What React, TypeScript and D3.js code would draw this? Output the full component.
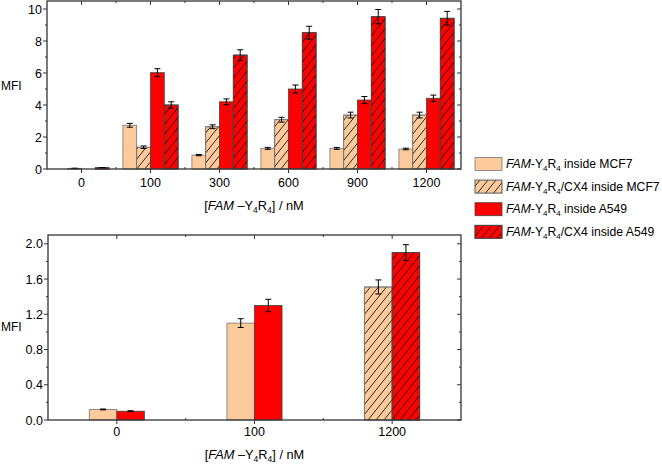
import React from "react";
import * as d3 from "d3";

const topCategories = ["0", "100", "300", "600", "900", "1200"];
const seriesNames = ["FAM-Y4R4 inside MCF7", "FAM-Y4R4/CX4 inside MCF7", "FAM-Y4R4 inside A549", "FAM-Y4R4/CX4 inside A549"];
const topMCF7 = [0, 2.73, 0.87, 1.29, 1.29, 1.25];
const topMCF7Err = [0, 0.12, 0.04, 0.06, 0.06, 0.05];
const topCX4MCF7 = [0.04, 1.36, 2.64, 3.08, 3.37, 3.37];
const topCX4MCF7Err = [0.01, 0.08, 0.12, 0.15, 0.18, 0.18];
const topA549 = [0, 6.02, 4.2, 5.0, 4.31, 4.42];
const topA549Err = [0, 0.25, 0.18, 0.25, 0.22, 0.2];
const topCX4A549 = [0.08, 4.0, 7.12, 8.52, 9.52, 9.42];
const topCX4A549Err = [0.01, 0.2, 0.33, 0.4, 0.45, 0.43];
const topYTicks = [0, 2, 4, 6, 8, 10];

const bottomCategories = ["0", "100", "1200"];
const bottomMCF7 = [0.12, 1.10, null];
const bottomMCF7Err = [0.005, 0.05, 0];
const bottomCX4MCF7 = [null, null, 1.51];
const bottomCX4MCF7Err = [0, 0, 0.08];
const bottomA549 = [0.10, 1.30, null];
const bottomA549Err = [0.005, 0.07, 0];
const bottomCX4A549 = [null, null, 1.90];
const bottomCX4A549Err = [0, 0, 0.09];
const bottomYTicks = [0, 0.4, 0.8, 1.2, 1.6, 2.0];

const PEACH = "#FDCB9B";
const RED = "#FF0000";
const FONT = "'Liberation Sans', Arial, sans-serif";
const TICK_FS = 12.5;

const styles = [
  { fill: PEACH, hatch: false, stroke: "#777" },
  { fill: PEACH, hatch: true, stroke: "#777" },
  { fill: RED, hatch: false, stroke: "#444" },
  { fill: RED, hatch: true, stroke: "#444" },
];

function SeriesLabel({ x, y, cx4, cell }: { x: number; y: number; cx4: boolean; cell: string }) {
  return (
    <text x={x} y={y} fontFamily={FONT} fontSize={12.2} fill="#000">
      <tspan fontStyle="italic">FAM</tspan>
      <tspan>-Y</tspan>
      <tspan fontSize={8} dy={3}>4</tspan>
      <tspan dy={-3}>R</tspan>
      <tspan fontSize={8} dy={3}>4</tspan>
      <tspan dy={-3}>{(cx4 ? "/CX4" : "") + " inside " + cell}</tspan>
    </text>
  );
}

function XTitle({ x, y }: { x: number; y: number }) {
  return (
    <text x={x} y={y} fontFamily={FONT} fontSize={12.8} textAnchor="middle" fill="#000">
      <tspan>[</tspan>
      <tspan fontStyle="italic">FAM</tspan>
      <tspan> –Y</tspan>
      <tspan fontSize={8.5} dy={3}>4</tspan>
      <tspan dy={-3}>R</tspan>
      <tspan fontSize={8.5} dy={3}>4</tspan>
      <tspan dy={-3}>] / nM</tspan>
    </text>
  );
}

function Bar({ x, w, y0, y1, s, err }: any) {
  const top = Math.min(y0, y1);
  const h = Math.abs(y0 - y1);
  return (
    <g>
      <rect x={x} y={top} width={w} height={h} fill={s.fill} stroke={s.stroke} strokeWidth={0.8} />
      {s.hatch && <rect x={x} y={top} width={w} height={h} fill="url(#hatch)" stroke={s.stroke} strokeWidth={0.8} />}
      {err}
    </g>
  );
}

function ErrorBar({ cx, yHi, yLo, cap }: { cx: number; yHi: number; yLo: number; cap: number }) {
  return (
    <g stroke="#000" strokeWidth={1}>
      <line x1={cx} x2={cx} y1={yHi} y2={yLo} />
      <line x1={cx - cap / 2} x2={cx + cap / 2} y1={yHi} y2={yHi} />
      <line x1={cx - cap / 2} x2={cx + cap / 2} y1={yLo} y2={yLo} />
    </g>
  );
}

export default function App() {
  // ---------- Top chart ----------
  const tL = 47, tR = 461, tT = 1, tB = 169;
  const xTop = d3.scaleBand<string>().domain(topCategories).range([tL, tR]).padding(0);
  const bwT = xTop.bandwidth();
  const inner = d3.scaleBand<number>().domain([0, 1, 2, 3]).range([bwT * 0.1, bwT * 0.9]).padding(0);
  const yTop = d3.scaleLinear().domain([0, 10.5]).range([tB, tT]);
  const topVals = [topMCF7, topCX4MCF7, topA549, topCX4A549];
  const topErrs = [topMCF7Err, topCX4MCF7Err, topA549Err, topCX4A549Err];
  const topMinor = d3.range(1, 11, 2);

  // ---------- Bottom chart ----------
  const bL = 48, bR = 461, bT = 235, bB = 420;
  const xBot = d3.scaleBand<string>().domain(bottomCategories).range([bL, bR]).padding(0);
  const bwB = xBot.bandwidth();
  const innerB = d3.scaleBand<number>().domain([0, 1]).range([bwB * 0.3, bwB * 0.7]).padding(0);
  const yBot = d3.scaleLinear().domain([0, 2.1]).range([bB, bT]);
  const botVals = [bottomMCF7, bottomCX4MCF7, bottomA549, bottomCX4A549];
  const botErrs = [bottomMCF7Err, bottomCX4MCF7Err, bottomA549Err, bottomCX4A549Err];
  const botSlot = [0, 0, 1, 1];
  const botMinor = [0.2, 0.6, 1.0, 1.4, 1.8];

  const frameColor = "#333";

  return (
    <svg width={662} height={464} style={{ position: "absolute", left: 0, top: 0, background: "#fff" }}>
      <defs>
        <pattern id="hatch" patternUnits="userSpaceOnUse" width={8} height={10}>
          <path d="M-1,1.25 L1,-1.25 M0,10 L8,0 M7,11.25 L9,8.75" stroke="#000" strokeWidth={0.8} />
        </pattern>
      </defs>
      <rect x={0} y={0} width={662} height={464} fill="#fff" />

      {/* ===== TOP CHART ===== */}
      {topCategories.map((c, ci) =>
        topVals.map((vals, si) => {
          const v = vals[ci];
          if (v == null) return null;
          const x = (xTop(c) as number) + (inner(si) as number);
          const w = inner.bandwidth();
          const e = topErrs[si][ci];
          return (
            <Bar key={`t${ci}-${si}`} x={x} w={w} y0={yTop(0)} y1={yTop(v)} s={styles[si]}
              err={e > 0 ? <ErrorBar cx={x + w / 2} yHi={yTop(v + e)} yLo={yTop(v - e)} cap={6} /> : null} />
          );
        })
      )}
      <rect x={tL} y={tT} width={tR - tL} height={tB - tT} fill="none" stroke={frameColor} strokeWidth={1.3} />
      {topYTicks.map((t) => (
        <g key={`ty${t}`}>
          <line x1={tL - 4} x2={tL} y1={yTop(t)} y2={yTop(t)} stroke={frameColor} />
          <line x1={tR - 4} x2={tR} y1={yTop(t)} y2={yTop(t)} stroke={frameColor} />
          <text x={tL - 5} y={yTop(t) + 4.5} textAnchor="end" fontFamily={FONT} fontSize={TICK_FS}>{t}</text>
        </g>
      ))}
      {topMinor.map((t) => (
        <g key={`tym${t}`}>
          <line x1={tL - 2} x2={tL} y1={yTop(t)} y2={yTop(t)} stroke={frameColor} />
          <line x1={tR - 2} x2={tR} y1={yTop(t)} y2={yTop(t)} stroke={frameColor} />
        </g>
      ))}
      {topCategories.map((c) => {
        const cx = (xTop(c) as number) + bwT / 2;
        return (
          <g key={`tx${c}`}>
            <line x1={cx} x2={cx} y1={tB} y2={tB + 4} stroke={frameColor} />
            <line x1={cx} x2={cx} y1={tT} y2={tT + 4} stroke={frameColor} />
            <text x={cx} y={187} textAnchor="middle" fontFamily={FONT} fontSize={TICK_FS}>{c}</text>
          </g>
        );
      })}
      {topCategories.slice(1).map((c) => {
        const bx = xTop(c) as number;
        return (
          <g key={`txm${c}`}>
            <line x1={bx} x2={bx} y1={tB} y2={tB - 2} stroke={frameColor} />
            <line x1={bx} x2={bx} y1={tT} y2={tT + 2} stroke={frameColor} />
          </g>
        );
      })}
      <text x={1} y={90} fontFamily={FONT} fontSize={12}>MFI</text>
      <XTitle x={(tL + tR) / 2} y={210} />

      {/* ===== LEGEND ===== */}
      {seriesNames.map((n, i) => {
        const cy = 164 + i * 22.6;
        return (
          <g key={`lg${i}`}>
            <rect x={475} y={cy - 6.5} width={27} height={13} fill={styles[i].fill} stroke={styles[i].stroke} strokeWidth={0.8} />
            {styles[i].hatch && <rect x={475} y={cy - 6.5} width={27} height={13} fill="url(#hatch)" stroke={styles[i].stroke} strokeWidth={0.8} />}
            <SeriesLabel x={506} y={cy + 4} cx4={n.includes("CX4")} cell={n.endsWith("MCF7") ? "MCF7" : "A549"} />
          </g>
        );
      })}

      {/* ===== BOTTOM CHART ===== */}
      {bottomCategories.map((c, ci) =>
        botVals.map((vals, si) => {
          const v = vals[ci];
          if (v == null) return null;
          const x = (xBot(c) as number) + (innerB(botSlot[si]) as number);
          const w = innerB.bandwidth();
          const e = botErrs[si][ci];
          return (
            <Bar key={`b${ci}-${si}`} x={x} w={w} y0={yBot(0)} y1={yBot(v)} s={styles[si]}
              err={e > 0 ? <ErrorBar cx={x + w / 2} yHi={yBot(v + e)} yLo={yBot(v - e)} cap={6} /> : null} />
          );
        })
      )}
      <rect x={bL} y={bT} width={bR - bL} height={bB - bT} fill="none" stroke={frameColor} strokeWidth={1.3} />
      {bottomYTicks.map((t) => (
        <g key={`by${t}`}>
          <line x1={bL - 4} x2={bL} y1={yBot(t)} y2={yBot(t)} stroke={frameColor} />
          <line x1={bR - 4} x2={bR} y1={yBot(t)} y2={yBot(t)} stroke={frameColor} />
          <text x={bL - 5} y={yBot(t) + 4.5} textAnchor="end" fontFamily={FONT} fontSize={TICK_FS}>{t.toFixed(1)}</text>
        </g>
      ))}
      {botMinor.map((t) => (
        <g key={`bym${t}`}>
          <line x1={bL - 2} x2={bL} y1={yBot(t)} y2={yBot(t)} stroke={frameColor} />
          <line x1={bR - 2} x2={bR} y1={yBot(t)} y2={yBot(t)} stroke={frameColor} />
        </g>
      ))}
      {bottomCategories.map((c) => {
        const cx = (xBot(c) as number) + bwB / 2;
        return (
          <g key={`bx${c}`}>
            <line x1={cx} x2={cx} y1={bB} y2={bB + 4} stroke={frameColor} />
            <line x1={cx} x2={cx} y1={bT} y2={bT + 4} stroke={frameColor} />
            <text x={cx} y={436} textAnchor="middle" fontFamily={FONT} fontSize={TICK_FS}>{c}</text>
          </g>
        );
      })}
      {bottomCategories.slice(1).map((c) => {
        const bx = xBot(c) as number;
        return (
          <g key={`bxm${c}`}>
            <line x1={bx} x2={bx} y1={bB} y2={bB - 2} stroke={frameColor} />
            <line x1={bx} x2={bx} y1={bT} y2={bT + 2} stroke={frameColor} />
          </g>
        );
      })}
      <text x={1} y={331} fontFamily={FONT} fontSize={12}>MFI</text>
      <XTitle x={(bL + bR) / 2} y={459} />
    </svg>
  );
}
